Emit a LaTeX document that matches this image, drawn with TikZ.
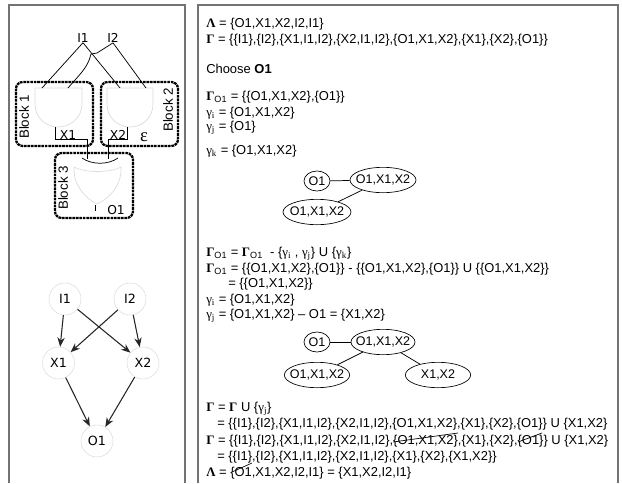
\documentclass[tikz,border=0pt]{standalone}
\usepackage{fontspec}
\setmainfont{Liberation Sans}
\newfontfamily\greekfont{Liberation Serif}
\newfontfamily\labelfont{DejaVu Sans}
\usepackage{tikz}
\usetikzlibrary{arrows.meta, positioning, shapes.geometric}
\usepackage{xcolor}

\definecolor{panelgray}{gray}{0.45}
\definecolor{gategray}{gray}{0.86}
\newcommand{\Lam}{{\greekfont\bfseries Λ}}
\newcommand{\Gam}{{\greekfont\bfseries Γ}}
\newcommand{\gam}[1]{{\greekfont γ}\textsubscript{\greekfont #1}}
\newcommand{\GamO}{\Gam\textsubscript{O1}}

\tikzset{
    panel/.style={draw=panelgray, line width=1pt},
    block/.style={draw, rounded corners=5pt, line width=1.7pt, dash pattern=on 2pt off 0.6pt},
    gateline/.style={draw=gategray, line width=0.5pt},
    wire/.style={draw, line width=0.55pt},
    blocklabel/.style={font=\fontsize{10}{10}\selectfont, rotate=90},
    circlabel/.style={font=\fontsize{9.2}{9}\labelfont, inner sep=0pt},
    gnode/.style={circle, draw=gategray, line width=0.4pt, minimum size=24pt, inner sep=0pt,
                  font=\fontsize{9.5}{9}\labelfont},
    gedge/.style={-{Stealth[length=7pt,width=5.5pt]}, line width=0.8pt, black!85},
    txt/.style={anchor=base west, inner sep=0pt, font=\fontsize{9.7}{10}\selectfont},
    set/.style={ellipse, draw, line width=0.5pt, inner xsep=-5pt, inner ysep=-1pt,
                font=\fontsize{9.4}{9}\selectfont},
    strike/.style={draw, line width=0.5pt}
}

\begin{document}
\begin{tikzpicture}[x=0.75pt, y=-0.75pt]
    \useasboundingbox (0,0) rectangle (622,483);

    % panels
    \draw[panel] (9,483) -- (9,5) -- (185,5) -- (185,483);
    \draw[panel] (198,483) -- (198,5) -- (618,5) -- (618,483);

    % circuit
    \draw[block] (16,82) rectangle (93,146);
    \draw[block] (101,82) rectangle (178,146);
    \draw[block] (55,153) rectangle (133,218);
    \node[blocklabel] (b1) at (24,117) {Block 1};
    \node[blocklabel] (b2) at (168,110) {Block 2};
    \node[blocklabel] (b3) at (63,188) {Block 3};

    \draw[gateline] (35,88) -- (82,88) -- (82,104) .. controls (82,118) and (70,127) .. (58,127)
        .. controls (46,127) and (35,118) .. (35,104) -- cycle;
    \draw[gateline] (107,88) -- (153,88) -- (153,104) .. controls (153,118) and (142,127) .. (130,127)
        .. controls (118,127) and (107,118) .. (107,104) -- cycle;
    \draw[gateline] (74,167) .. controls (85,173) and (110,173) .. (121,167)
        .. controls (122,185) and (110,198) .. (97,204)
        .. controls (85,198) and (73,185) .. (74,167) -- cycle;

    \node[circlabel] (I1t) at (83,38) {I1};
    \node[circlabel] (I2t) at (113,38) {I2};
    \node[circlabel] (X1t) at (68,135) {X1};
    \node[circlabel] (X2t) at (118,135) {X2};
    \node[circlabel] (O1t) at (116,210) {O1};
    \node[font=\fontsize{14}{14}\selectfont, inner sep=0pt] (eps) at (144,137) {{\greekfont ε}};

    \coordinate (a1) at (42,88);
    \coordinate (a2) at (68,88);
    \coordinate (a3) at (120,88);
    \coordinate (a4) at (146,88);
    \draw[wire] (I1t.south) -- (a1);
    \draw[wire] (I1t.south) -- (a3);
    \draw[wire] (I2t.south) -- (a4);
    \draw[wire] (I2t.south) -- (97,53) -- (91,54) .. controls (88,68) and (78,76) .. (a2);
    \draw[wire] (55,127) -- (55,139) -- (87,139) -- (87,159);
    \draw[wire] (127,127) -- (127,139) -- (108,139) -- (108,159);
    \draw[wire] (82,158) .. controls (92,165) and (108,165) .. (118,158);
    \draw[wire] (95,205) -- (95,211);

    % graph
    \node[gnode] (I1) at (65,299) {I1};
    \node[gnode] (I2) at (130,299) {I2};
    \node[gnode] (X1) at (58.5,363) {X1};
    \node[gnode] (X2) at (143,363) {X2};
    \node[gnode] (O1) at (97,441) {O1};
    \draw[gedge] (I1) -- (X1);
    \draw[gedge] (I1) -- (X2);
    \draw[gedge] (I2) -- (X1);
    \draw[gedge] (I2) -- (X2);
    \draw[gedge] (X1) -- (O1);
    \draw[gedge] (X2) -- (O1);

    % text, first part
    \node[txt] at (206,27) {\Lam{} = \{O1,X1,X2,I2,I1\}};
    \node[txt] at (206,43) {\Gam{} = \{\{I1\},\{I2\},\{X1,I1,I2\},\{X2,I1,I2\},\{O1,X1,X2\},\{X1\},\{X2\},\{O1\}\}};
    \node[txt] at (206,73) {Choose \textbf{O1}};
    \node[txt] at (206,100) {\GamO{} = \{\{O1,X1,X2\},\{O1\}\}};
    \node[txt] at (206,116) {\gam{i} = \{O1,X1,X2\}};
    \node[txt] at (206,130) {\gam{j} = \{O1\}};
    \node[txt] at (206,154) {\gam{k} = \{O1,X1,X2\}};

    \node[set, minimum width=19.5pt, minimum height=15pt] (s1) at (317,181) {O1};
    \node[set, minimum width=49.5pt, minimum height=19pt] (s2) at (383,180) {O1,X1,X2};
    \node[set, minimum width=51pt, minimum height=19pt] (s3) at (317,212) {O1,X1,X2};
    \draw[wire] (s1) -- (s2);
    \draw[wire] (s2) -- (s3);

    % text, second part
    \node[txt] at (206,256) {\GamO{} = \GamO{}~ - \{\gam{i} , \gam{j}\} U \{\gam{k}\}};
    \node[txt] at (206,272) {\GamO{} = \{\{O1,X1,X2\},\{O1\}\} - \{\{O1,X1,X2\},\{O1\}\} U \{\{O1,X1,X2\}\}};
    \node[txt] at (228,287) {= \{\{O1,X1,X2\}\}};
    \node[txt] at (206,303) {\gam{i} = \{O1,X1,X2\}};
    \node[txt] at (206,318) {\gam{j} = \{O1,X1,X2\} -- O1 = \{X1,X2\}};

    \node[set, minimum width=19.5pt, minimum height=15pt] (t1) at (317,342) {O1};
    \node[set, minimum width=48pt, minimum height=19pt] (t2) at (383,342) {O1,X1,X2};
    \node[set, minimum width=49pt, minimum height=19pt] (t3) at (317,375) {O1,X1,X2};
    \node[set, minimum width=49pt, minimum height=19pt] (t4) at (438,375) {X1,X2};
    \draw[wire] (t1) -- (t2);
    \draw[wire] (t2) -- (t3);
    \draw[wire] (t2) -- (t4);

    % text, third part
    \node[txt] at (206,411) {\Gam{} = \Gam{} U \{\gam{j}\}};
    \node[txt] at (217,427) {= \{\{I1\},\{I2\},\{X1,I1,I2\},\{X2,I1,I2\},\{O1,X1,X2\},\{X1\},\{X2\},\{O1\}\} U \{X1,X2\}};
    \node[txt] at (206,444) {\Gam{} = \{\{I1\},\{I2\},\{X1,I1,I2\},\{X2,I1,I2\},\{O1,X1,X2\},\{X1\},\{X2\},\{O1\}\} U \{X1,X2\}};
    \node[txt] at (217,460) {= \{\{I1\},\{I2\},\{X1,I1,I2\},\{X2,I1,I2\},\{X1\},\{X2\},\{X1,X2\}\}};
    \node[txt] at (206,476) {\Lam{} = \{O1,X1,X2,I2,I1\} = \{X1,X2,I2,I1\}};
    \draw[strike] (393,442) -- (458,433);
    \draw[strike] (518,442) -- (542,433);
    \draw[strike] (232,472) -- (252,463);
\end{tikzpicture}
\end{document}
